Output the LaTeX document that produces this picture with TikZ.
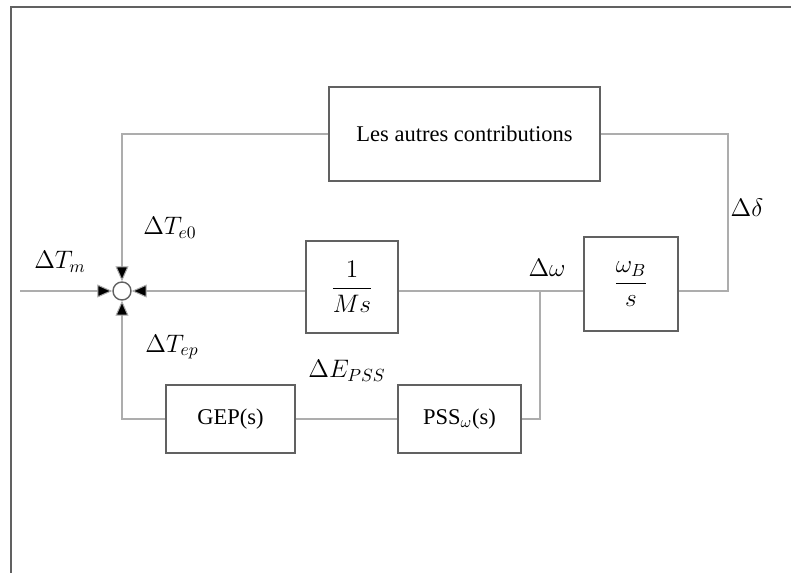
\documentclass[tikz,border=0pt]{standalone}
\usepackage{amsmath,amssymb}
\usepackage{fontspec}
\setmainfont{Liberation Serif}
\usepackage{xcolor}
\usepackage{tikz}
\usetikzlibrary{positioning,arrows.meta,calc}
\definecolor{wire}{gray}{0.68}
\definecolor{edge}{gray}{0.38}

\begin{document}
\begin{tikzpicture}[x=0.02cm,y=-0.02cm,font=\fontsize{12.8}{15}\selectfont,
  blk/.style={draw=edge,line width=1.1pt,inner sep=0pt},
  sig/.style={draw=wire,line width=0.6pt},
  tip/.style={sig,-{Triangle[length=0.3cm,width=0.26cm,fill=black]}},
  lbl/.style={font=\fontsize{14}{16}\selectfont}]
  \useasboundingbox (0,0) rectangle (791,573);
  % frame
  \draw[edge,line width=1.2pt] (791,7) -- (11,7) -- (11,573);

  % blocks
  \node[blk,minimum width=5.42cm,minimum height=1.88cm] (autres) at (464.5,134) {Les autres contributions};
  \node[blk,minimum width=1.84cm,minimum height=1.84cm,font=\fontsize{14}{16}\selectfont] (Ms) at (352,287) {$\dfrac{1}{Ms}$};
  \node[blk,minimum width=1.88cm,minimum height=1.88cm,font=\fontsize{14}{16}\selectfont] (wB) at (631,284) {$\dfrac{\omega_B}{s}$};
  \node[blk,minimum width=2.58cm,minimum height=1.36cm] (GEP) at (230.5,419) {GEP(s)};
  \node[blk,minimum width=2.46cm,minimum height=1.36cm] (PSS) at (459.5,419) {PSS$_\omega$(s)};
  \node[circle,draw=edge,line width=0.8pt,minimum size=0.36cm,inner sep=0pt] (sum) at (122,291) {};

  \coordinate (in) at (20,291);
  \coordinate (tap) at (540,291);
  \coordinate (rt) at (728,134);

  % connectors
  \draw[tip] (in) -- (sum.west);
  \draw[tip] (Ms.west |- sum) -- (sum.east);
  \draw[sig] (Ms.east |- sum) -- (wB.west |- sum);
  \draw[sig] (wB.east |- sum) -| (rt) -- (autres.east);
  \draw[tip] (autres.west) -| (sum.north);
  \draw[sig] (tap) |- (PSS.east);
  \draw[sig] (PSS.west) -- (GEP.east);
  \draw[tip] (GEP.west) -| (sum.south);

  % labels
  \node[lbl] (lTm) at (60,262) {$\Delta T_m$};
  \node[lbl] (lTe0) at (170,228) {$\Delta T_{e0}$};
  \node[lbl] (lTep) at (172,347) {$\Delta T_{ep}$};
  \node[lbl] (lEpss) at (347,371) {$\Delta E_{PSS}$};
  \node[lbl] (lw) at (547,268) {$\Delta\omega$};
  \node[lbl] (ld) at (747,208) {$\Delta\delta$};
\end{tikzpicture}
\end{document}
